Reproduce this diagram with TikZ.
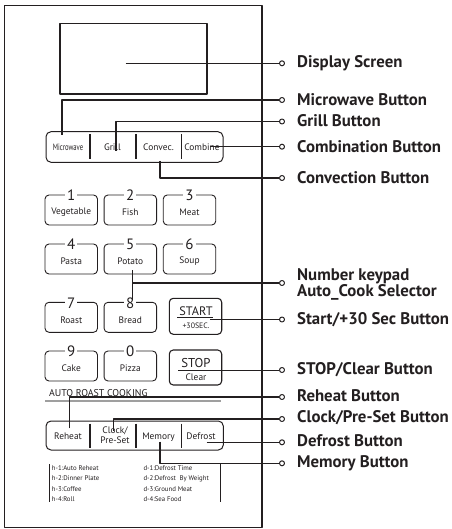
\documentclass[tikz,border=0pt]{standalone}
\usepackage{fontspec}
\setmainfont{PT Sans}
\usepackage{graphicx}
\definecolor{ink}{HTML}{231F20}
\begin{document}
\begin{tikzpicture}[x=1pt,y=-1pt, line join=round,
  panel/.style={draw=ink, line width=1.3},
  keybox/.style={draw=ink, line width=0.9, rounded corners=4},
  strip/.style={draw=ink, line width=1, rounded corners=5},
  divider/.style={draw=ink, line width=1.2},
  conn/.style={draw=ink, line width=1.3},
  tip/.style={circle, draw=ink, line width=1, fill=white, minimum size=5, inner sep=0},
  callout/.style={anchor=west, inner sep=0, align=left, font=\fontsize{16.8}{16.7}\selectfont\bfseries, text=ink},
  digit/.style={fill=white, inner xsep=2, inner ysep=0, font=\fontsize{15}{15}\selectfont, text=ink},
  keytext/.style={inner sep=0, font=\fontsize{9.4}{10.5}\selectfont, text=ink},
  smalltext/.style={inner sep=0, font=\fontsize{9.2}{10}\selectfont, text=ink},
  legend/.style={anchor=west, inner sep=0, font=\fontsize{6.8}{7}\selectfont, text=ink}
]
\useasboundingbox (0,0) rectangle (451,529);
% panel
\draw[panel] (4.5,5.5) rectangle (262,527.5);
% display
\draw[panel] (60,23.5) rectangle (207,94);
% mode strip
\draw[strip] (46,131.7) rectangle (223,162.3);
\foreach \x in {90,136,181.7} \draw[divider] (\x,134) -- (\x,159.5);
\node[smalltext] (tMic) at (68,147) {\scalebox{0.72}[1]{Microwave}};
\node[keytext] (tGri) at (112.5,147) {Grill};
\node[keytext] (tCon) at (158.5,147) {Convec.};
\node[keytext] (tCom) at (202,147) {Combine};
% number keys
\foreach \cx/\cy/\d/\t/\n in {71.25/210/1/Vegetable/k1, 130.3/210/2/Fish/k2, 189.5/210/3/Meat/k3,
  71.25/259/4/Pasta/k4, 130.3/259/5/Potato/k5, 189.5/259/6/Soup/k6,
  71.25/317.3/7/Roast/k7, 130.3/317.3/8/Bread/k8,
  71.25/366/9/Cake/k9, 130.3/366/0/Pizza/k0}{
  \draw[keybox] (\cx-26.25,\cy-15) rectangle (\cx+26.25,\cy+15);
  \node[digit] (\n d) at (\cx,\cy-14.5) {\d};
  \node[keytext] (\n t) at (\cx,\cy+2.5) {\t};
}
% start / stop
\draw[keybox, line width=1.1] (169.3,298.3) rectangle (221.7,334.3);
\node[keytext, font=\fontsize{12.3}{13}\selectfont] (tStart) at (196,311) {START};
\draw[ink, line width=0.8] (177,317) -- (213,317);
\node[keytext, font=\fontsize{7.8}{8}\selectfont] (tSec) at (196,325.5) {+30SEC.};
\draw[keybox, line width=1.1] (169.3,350) rectangle (221.7,385);
\node[keytext, font=\fontsize{12.8}{13}\selectfont] (tStop) at (196,363.3) {STOP};
\node[keytext] (tClear) at (196,377) {Clear};
% auto roast
\node[keytext, anchor=west, font=\fontsize{9.9}{10}\selectfont] (tAuto) at (49,392.7) {AUTO ROAST COOKING};
\draw[gray!75, line width=1.3] (45,401) -- (220.7,401);
% function strip
\draw[strip] (46,421) rectangle (223.3,450);
\foreach \x in {90,136,181.7} \draw[divider] (\x,423.5) -- (\x,447.5);
\node[keytext] (tReh) at (68,436.7) {Reheat};
\node[keytext, align=center, font=\fontsize{9.4}{10}\selectfont] (tClk) at (115,435.7) {Clock/\\Pre-Set};
\node[keytext] (tMem) at (158.5,436.7) {Memory};
\node[keytext] (tDef) at (201,436.7) {Defrost};
% legend
\draw[ink, line width=1] (49,464.3) -- (49,501.7);
\draw[ink, line width=1] (220,463) -- (220,501.7);
\node[legend] (h1) at (51.7,468.3) {h-1:Auto Reheat};
\node[legend] (h2) at (51.7,478.5) {h-2:Dinner Plate};
\node[legend] (h3) at (51.7,489) {h-3:Coffee};
\node[legend] (h4) at (51.7,499.3) {h-4:Roll};
\node[legend] (d1) at (143.3,468.3) {d-1:Defrost Time};
\node[legend] (d2) at (143.3,478.5) {d-2:Defrost\ \ By Weight};
\node[legend] (d3) at (143.3,489) {d-3:Ground Meat};
\node[legend] (d4) at (143.3,499.3) {d-4:Sea Food};
% connector start points
\coordinate (sDisp) at (125.7,63.3);
\coordinate (sMic) at (62,135);
\coordinate (sGri) at (116,151);
\coordinate (sCom) at (210,146.7);
\coordinate (sCon) at (160,161);
\coordinate (sKpTop) at (132.7,270);
\coordinate (sKpBot) at (132.7,300);
\coordinate (sKpMid) at (132.7,283);
\coordinate (sStart) at (210,319.5);
\coordinate (sStop) at (178,370);
\coordinate (sReh) at (69.3,428.3);
\coordinate (sClk) at (113.3,430.7);
\coordinate (sDef) at (206.7,442.3);
\coordinate (sMem) at (160,441.7);
% tips
\foreach \n/\y in {cDisp/63.3, cMic/100, cGri/121.5, cCom/146.7, cCon/178, cKp/283,
  cStart/319.5, cStop/370, cReh/397, cClk/419, cDef/442.3, cMem/463.3}
  \node[tip] (\n) at (282,\y) {};
% connectors
\draw[conn] (sDisp) -- (cDisp.west);
\draw[conn] (sMic) |- (cMic.west);
\draw[conn] (sGri) |- (cGri.west);
\draw[conn] (sCom) -- (cCom.west);
\draw[conn] (sCon) |- (cCon.west);
\draw[conn] (sKpTop) -- (sKpBot);
\draw[conn] (sKpMid) -- (cKp.west);
\draw[conn] (sStart) -- (cStart.west);
\draw[conn, line width=1] (sStop) -- (cStop.west);
\draw[conn] (sReh) |- (cReh.west);
\draw[conn] (sClk) |- (cClk.west);
\draw[conn] (sDef) -- (cDef.west);
\draw[conn] (sMem) |- (cMem.west);
% callouts
\node[callout] (lDisp) at (297,63.3) {Display Screen};
\node[callout] (lMic) at (297,100) {Microwave Button};
\node[callout] (lGri) at (297,120.5) {Grill Button};
\node[callout] (lCom) at (297,147) {Combination Button};
\node[callout] (lCon) at (297,178) {Convection Button};
\node[callout] (lKp) at (297,284.5) {Number keypad\\Auto\_Cook Selector};
\node[callout] (lStart) at (297,319.5) {Start/+30 Sec Button};
\node[callout] (lStop) at (297,370) {STOP/Clear Button};
\node[callout] (lReh) at (297,396) {Reheat Button};
\node[callout] (lClk) at (297,418) {Clock/Pre-Set Button};
\node[callout] (lDef) at (297,441) {Defrost Button};
\node[callout] (lMem) at (297,463.3) {Memory Button};
\end{tikzpicture}
\end{document}
